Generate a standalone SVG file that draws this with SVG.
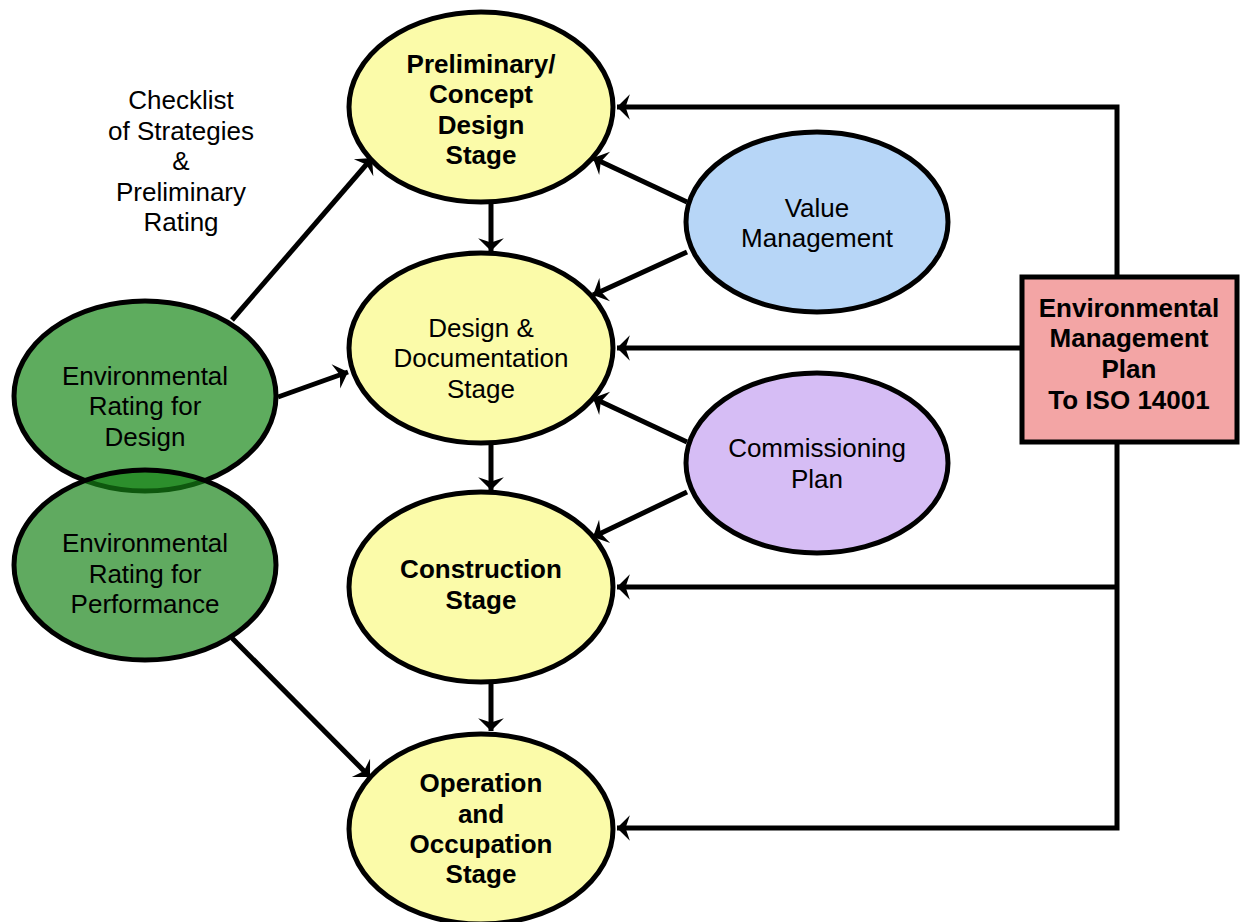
<svg xmlns="http://www.w3.org/2000/svg" width="1245" height="922" viewBox="0 0 1245 922">
<style>
text{font-family:"Liberation Sans",Arial,sans-serif;font-size:26px;fill:#000;text-anchor:middle}
.b{font-weight:bold}
.stage{fill:#FBFBA9;stroke:#000;stroke-width:5}
.vm{fill:#B7D6F7;stroke:#000;stroke-width:5}
.cp{fill:#D6BDF5;stroke:#000;stroke-width:5}
.gd{fill:#5EAC5E;stroke:#000;stroke-width:5}
.gp{fill:rgba(20,130,20,0.68);stroke:#000;stroke-width:5}
.emp{fill:#F3A5A5;stroke:#000;stroke-width:5}
.c{fill:none;stroke:#000;stroke-width:5}
</style>
<defs>
<marker id="ah" markerUnits="userSpaceOnUse" markerWidth="30" markerHeight="30" viewBox="-14 -14 28 28" refX="0" refY="0" orient="auto">
<path d="M0,0 L-12,-12 L-8,0 L-12,12 Z" fill="#000"/>
</marker>
</defs>
<rect width="1245" height="922" fill="#fff"/>

<g id="checklist-label">
<text x="181" y="109">Checklist</text>
<text x="181" y="140">of Strategies</text>
<text x="181" y="170">&amp;</text>
<text x="181" y="201">Preliminary</text>
<text x="181" y="231">Rating</text>
</g>

<g id="connectors">
<path class="c" d="M1117,277 V107 H617" marker-end="url(#ah)"/>
<path class="c" d="M1020,348 H617" marker-end="url(#ah)"/>
<path class="c" d="M1117,442 V828 H617" marker-end="url(#ah)"/>
<path class="c" d="M1117,587 H617" marker-end="url(#ah)"/>
<path class="c" d="M491,204 V251" marker-end="url(#ah)"/>
<path class="c" d="M491,445 V490" marker-end="url(#ah)"/>
<path class="c" d="M491,684 V731" marker-end="url(#ah)"/>
<path class="c" d="M232,320 L372,158" marker-end="url(#ah)"/>
<path class="c" d="M278,397 L348,372" marker-end="url(#ah)"/>
<path class="c" d="M232,638 L370,777" marker-end="url(#ah)"/>
<path class="c" d="M687,202 L593,158" marker-end="url(#ah)"/>
<path class="c" d="M687,252 L593,295" marker-end="url(#ah)"/>
<path class="c" d="M687,442 L593,398" marker-end="url(#ah)"/>
<path class="c" d="M687,492 L593,537" marker-end="url(#ah)"/>
</g>

<g id="preliminary">
<ellipse class="stage" cx="481" cy="107" rx="132" ry="95"/>
<text class="b" x="481" y="73">Preliminary/</text>
<text class="b" x="481" y="103">Concept</text>
<text class="b" x="481" y="134">Design</text>
<text class="b" x="481" y="164">Stage</text>
</g>

<g id="design-documentation">
<ellipse class="stage" cx="481" cy="348" rx="132" ry="95"/>
<text x="481" y="337">Design &amp;</text>
<text x="481" y="367">Documentation</text>
<text x="481" y="398">Stage</text>
</g>

<g id="construction">
<ellipse class="stage" cx="481" cy="587" rx="132" ry="95"/>
<text class="b" x="481" y="578">Construction</text>
<text class="b" x="481" y="609">Stage</text>
</g>

<g id="operation">
<ellipse class="stage" cx="481" cy="829" rx="132" ry="95"/>
<text class="b" x="481" y="792">Operation</text>
<text class="b" x="481" y="823">and</text>
<text class="b" x="481" y="853">Occupation</text>
<text class="b" x="481" y="883">Stage</text>
</g>

<g id="value-management">
<ellipse class="vm" cx="817" cy="222" rx="131" ry="90"/>
<text x="817" y="217">Value</text>
<text x="817" y="247">Management</text>
</g>

<g id="commissioning-plan">
<ellipse class="cp" cx="817" cy="463" rx="131" ry="90"/>
<text x="817" y="457">Commissioning</text>
<text x="817" y="488">Plan</text>
</g>

<g id="rating-design">
<ellipse class="gd" cx="145" cy="396" rx="131" ry="95"/>
<text x="145" y="385">Environmental</text>
<text x="145" y="415">Rating for</text>
<text x="145" y="446">Design</text>
</g>

<g id="rating-performance">
<ellipse class="gp" cx="145" cy="565" rx="131" ry="95"/>
<text x="145" y="552">Environmental</text>
<text x="145" y="583">Rating for</text>
<text x="145" y="613">Performance</text>
</g>

<g id="emp">
<rect class="emp" x="1022" y="277" width="215" height="165"/>
<text class="b" x="1129" y="317">Environmental</text>
<text class="b" x="1129" y="347">Management</text>
<text class="b" x="1129" y="378">Plan</text>
<text class="b" x="1129" y="409">To ISO 14001</text>
</g>
</svg>
